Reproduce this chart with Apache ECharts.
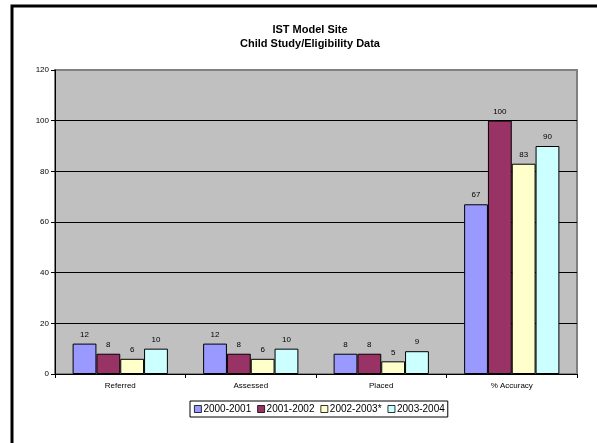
<!DOCTYPE html>
<html>
<head>
<meta charset="utf-8">
<script src="https://cdn.jsdelivr.net/npm/echarts@6/dist/echarts.min.js"></script>
<style>
  html, body { margin: 0; padding: 0; background: #fff; }
  #chart { width: 597px; height: 443px; }
</style>
</head>
<body>
<div id="chart"></div>
<script>
// IST Model Site - Child Study/Eligibility Data
const categories = ['Referred', 'Assessed', 'Placed', '% Accuracy']
const years = ['2000-2001', '2001-2002', '2002-2003*', '2003-2004']
const y2000 = [12, 12, 8, 67]
const y2001 = [8, 8, 8, 100]
const y2002 = [6, 6, 5, 83]
const y2003 = [10, 10, 9, 90]
const yTicks = [0, 20, 40, 60, 80, 100, 120]

const colors = ['#9999FF', '#993366', '#FFFFCC', '#CCFFFF']
const font = 'Liberation Sans, Arial, sans-serif'

const chart = echarts.init(document.getElementById('chart'))

const makeSeries = (name, data, i) => ({
  name: name,
  type: 'bar',
  data: data,
  barGap: '0%',
  barCategoryGap: '27%',
  itemStyle: {
    color: colors[i],
    borderColor: '#000',
    borderWidth: 1
  },
  label: {
    show: true,
    position: 'top',
    distance: 5,
    color: '#000',
    fontSize: 8,
    fontFamily: font
  }
})

const option = {
  animation: false,
  backgroundColor: '#fff',
  title: {
    text: 'IST Model Site\nChild Study/Eligibility Data',
    left: 305,
    textAlign: 'center',
    top: 18,
    textStyle: {
      fontFamily: font,
      fontSize: 11,
      fontWeight: 'bold',
      color: '#000',
      lineHeight: 14
    }
  },
  legend: {
    data: years,
    icon: 'rect',
    left: 190,
    top: 401,
    itemWidth: 7,
    itemHeight: 7,
    itemGap: 6,
    padding: [3, 3, 3, 4],
    borderColor: '#000',
    borderWidth: 1,
    backgroundColor: '#fff',
    itemStyle: { borderWidth: 0.8 },
    textStyle: {
      fontFamily: font,
      fontSize: 10,
      color: '#000',
      padding: [0, 0, 0, -3]
    }
  },
  grid: {
    left: 55,
    top: 70,
    width: 522,
    height: 304,
    show: true,
    backgroundColor: '#C0C0C0',
    borderColor: '#808080',
    borderWidth: 2
  },
  xAxis: {
    type: 'category',
    data: categories,
    axisLine: { lineStyle: { color: '#000', width: 1 } },
    axisTick: { show: true, length: 4, lineStyle: { color: '#000' } },
    axisLabel: {
      fontFamily: font,
      fontSize: 8,
      color: '#000',
      margin: 8
    }
  },
  yAxis: {
    type: 'value',
    min: yTicks[0],
    max: yTicks[yTicks.length - 1],
    interval: 20,
    axisLine: { show: true, lineStyle: { color: '#000', width: 1 } },
    axisTick: { show: true, length: 4, lineStyle: { color: '#000' } },
    axisLabel: {
      fontFamily: font,
      fontSize: 8,
      color: '#000',
      margin: 6
    },
    splitLine: {
      show: true,
      showMaxLine: false,
      lineStyle: { color: '#000', width: 1 }
    }
  },
  graphic: [
    {
      type: 'rect',
      shape: { x: 12, y: 6, width: 700, height: 600 },
      style: { fill: 'none', stroke: '#000', lineWidth: 3 },
      silent: true
    }
  ],
  series: [
    makeSeries(years[0], y2000, 0),
    makeSeries(years[1], y2001, 1),
    makeSeries(years[2], y2002, 2),
    makeSeries(years[3], y2003, 3)
  ]
}

chart.setOption(option)
</script>
</body>
</html>
